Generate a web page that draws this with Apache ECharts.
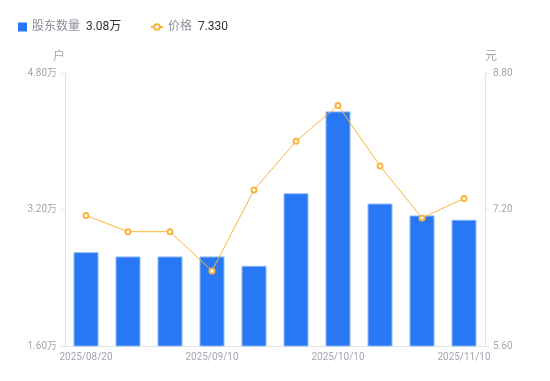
<!DOCTYPE html>
<html><head><meta charset="utf-8">
<script src="https://cdn.jsdelivr.net/npm/echarts@6/dist/echarts.min.js"></script>
<style>html,body{margin:0;padding:0;background:#fff}#c{width:550px;height:381px}</style>
</head><body><div id="c"></div>
<script>
var categories = ['2025/08/20','2025/08/29','2025/08/31','2025/09/10','2025/09/19','2025/09/30','2025/10/10','2025/10/20','2025/10/31','2025/11/10'];
var holders = [2.70, 2.65, 2.65, 2.65, 2.54, 3.39, 4.35, 3.27, 3.13, 3.08];
var prices = [7.13, 6.94, 6.94, 6.48, 7.43, 8.00, 8.42, 7.71, 7.10, 7.33];
var leftTicks = [1.6, 3.2, 4.8];
var rightTicks = [5.6, 7.2, 8.8];

var chart = echarts.init(document.getElementById('c'));
var font = 'Roboto, "Noto Sans CJK SC", sans-serif';
function legendFmt(n) {
  if (n === '股东数量') return '{n|' + n + '}  {v|' + holders[holders.length - 1].toFixed(2) + '万}';
  return '{n|' + n + '}  {v|' + prices[prices.length - 1].toFixed(3) + '}';
}
var legendText = {
  fontFamily: font,
  rich: {
    n: {color: '#8a8f99', fontSize: 12, fontFamily: font},
    v: {color: '#333', fontSize: 12, fontFamily: font}
  }
};
chart.setOption({
  animation: false,
  textStyle: {fontFamily: font},
  legend: [{
    left: 13, top: 16, itemWidth: 9, itemHeight: 9, itemGap: 5,
    data: [{name: '股东数量', icon: 'rect', itemStyle: {borderWidth: 0, color: '#2878f5'}}],
    formatter: legendFmt, textStyle: legendText
  }, {
    left: 145, top: 16, itemWidth: 12, itemHeight: 7, itemGap: 5,
    data: [{name: '价格'}],
    formatter: legendFmt, textStyle: legendText
  }],
  grid: {left: 65, right: 65, top: 73, bottom: 35},
  xAxis: {
    type: 'category', data: categories,
    axisLine: {lineStyle: {color: '#e3e3e3'}},
    axisTick: {show: false},
    axisLabel: {interval: 2, color: '#a3a6b0', fontSize: 10, margin: 6, fontFamily: font}
  },
  yAxis: [{
    type: 'value', min: leftTicks[0], max: leftTicks[2], interval: 1.6,
    name: '户', nameGap: 10, nameTextStyle: {color: '#a3a6b0', fontSize: 12, padding: [0, 0, 0, -12]},
    axisLine: {show: true, lineStyle: {color: '#e3e3e3'}},
    axisTick: {show: true, length: 4, lineStyle: {color: '#e3e3e3'}},
    splitLine: {show: false},
    axisLabel: {color: '#a3a6b0', fontSize: 10, margin: 8, fontFamily: font,
      formatter: function (v) { return v.toFixed(2) + '万'; }}
  }, {
    type: 'value', min: rightTicks[0], max: rightTicks[2], interval: 1.6, position: 'right',
    name: '元', nameGap: 10, nameTextStyle: {color: '#a3a6b0', fontSize: 12, padding: [0, -12, 0, 0]},
    axisLine: {show: true, lineStyle: {color: '#e3e3e3'}},
    axisTick: {show: true, length: 4, lineStyle: {color: '#e3e3e3'}},
    splitLine: {show: false},
    axisLabel: {color: '#a3a6b0', fontSize: 10, margin: 8, fontFamily: font,
      formatter: function (v) { return v.toFixed(2); }}
  }],
  series: [{
    name: '股东数量', type: 'bar', yAxisIndex: 0, data: holders, barWidth: 25,
    itemStyle: {color: '#2878f5', borderColor: '#8fb8fa', borderWidth: 1}
  }, {
    name: '价格', type: 'line', yAxisIndex: 1, data: prices,
    symbol: 'emptyCircle', symbolSize: 5,
    lineStyle: {color: '#f9b53b', width: 1},
    itemStyle: {color: '#f9b53b', borderWidth: 2}
  }]
});
</script></body></html>
